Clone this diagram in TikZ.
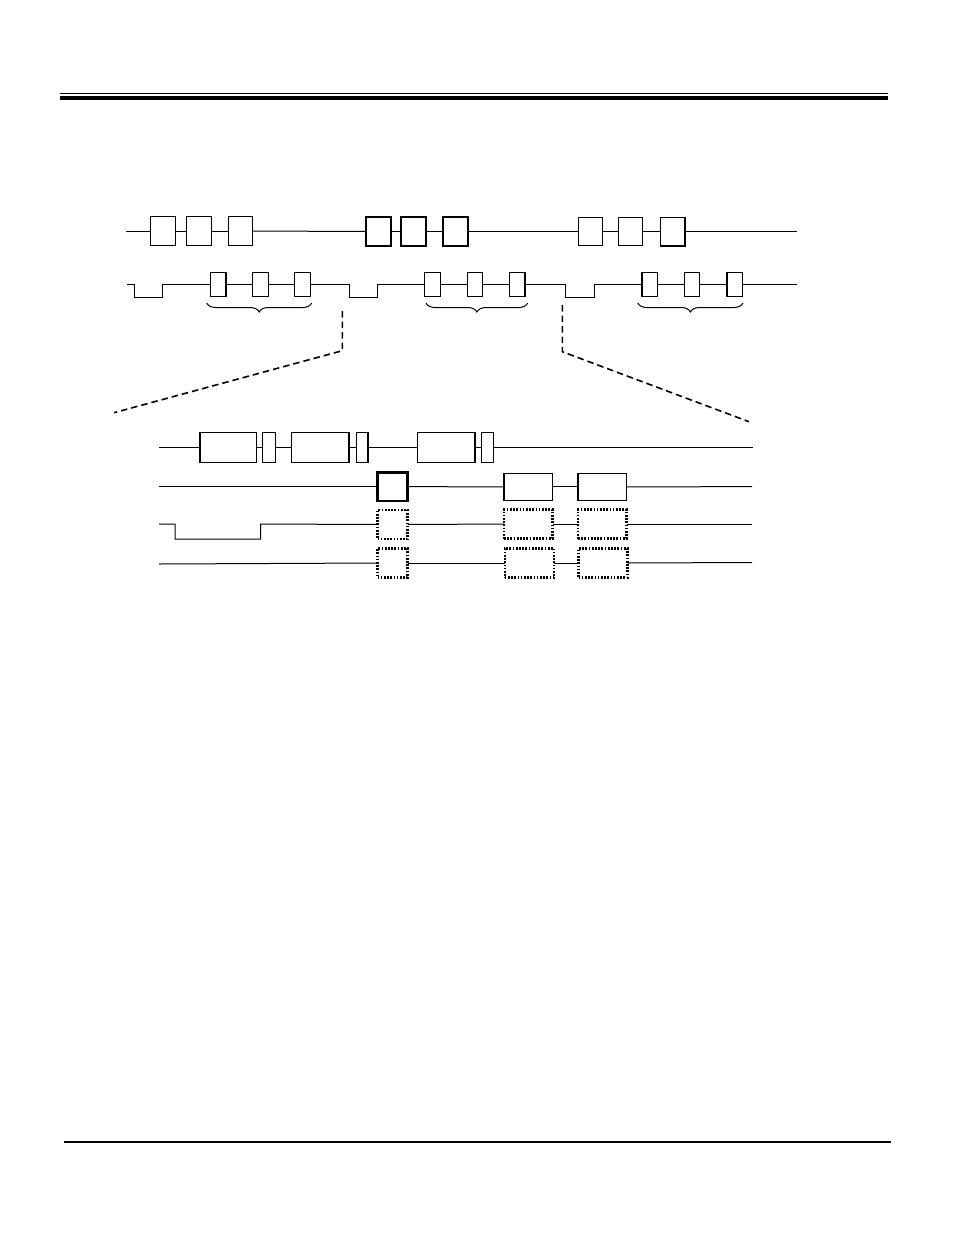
\documentclass[tikz,border=0pt]{standalone}
\usetikzlibrary{decorations.pathreplacing}
\begin{document}
\begin{tikzpicture}[x=1pt,y=-1pt,
  sig/.style={line width=1pt},
  tbox/.style={draw, line width=1.2pt, minimum width=24.5pt, minimum height=28.5pt, inner sep=0pt, outer sep=0pt},
  tboxb/.style={tbox, line width=2pt},
  sbox/.style={draw, line width=1.3pt, minimum width=15.5pt, minimum height=24.5pt, inner sep=0pt, outer sep=0pt},
  lbox/.style={draw, line width=1.6pt, minimum height=30pt, inner sep=0pt, outer sep=0pt},
  thickbox/.style={draw, line width=2.6pt, minimum width=30pt, minimum height=28.5pt, inner sep=0pt, outer sep=0pt},
  dotbox/.style={draw, line width=2.2pt, dash pattern=on 1.7pt off 1.5pt, minimum height=29pt, inner sep=0pt, outer sep=0pt},
  zoomline/.style={line width=1.6pt, dash pattern=on 6.5pt off 4pt},
  bracestyle/.style={line width=1pt, decorate, decoration={brace, mirror, amplitude=9pt}}
]
\useasboundingbox (0,0) rectangle (954,1235);

% header and footer rules
\coordinate (hl1) at (60,93.2);
\coordinate (hr1) at (888.3,93.2);
\coordinate (hl2) at (60,97.7);
\coordinate (hr2) at (888.3,97.7);
\draw[line width=1.2pt] (hl1) -- (hr1);
\draw[line width=4.4pt] (hl2) -- (hr2);
\coordinate (fl) at (64,1141.7);
\coordinate (fr) at (891,1141.7);
\draw[line width=1.8pt] (fl) -- (fr);

% ---------- top row ----------
\node[tbox]  (t1) at (163,231) {};
\node[tbox]  (t2) at (199,231) {};
\node[tbox]  (t3) at (240.5,231) {};
\node[tboxb] (t4) at (378.5,231.5) {};
\node[tboxb] (t5) at (413.5,231.5) {};
\node[tboxb] (t6) at (455.5,231.5) {};
\node[tbox]  (t7) at (590.5,231.5) {};
\node[tbox]  (t8) at (630.5,231.5) {};
\node[tbox, line width=1.5pt] (t9) at (672.5,231.5) {};
\coordinate (ts) at (126,231);
\coordinate (te) at (797,231.5);
\draw[sig] (ts) -- (t1.west);
\draw[sig] (t1.east) -- (t2.west);
\draw[sig] (t2.east) -- (t3.west);
\draw[sig] (t3.east) -- (t4.west);
\draw[sig] (t4.east) -- (t5.west);
\draw[sig] (t5.east) -- (t6.west);
\draw[sig] (t6.east) -- (t7.west);
\draw[sig] (t7.east) -- (t8.west);
\draw[sig] (t8.east) -- (t9.west);
\draw[sig] (t9.east) -- (te);

% ---------- second row ----------
\node[sbox] (s1) at (218.3,284.5) {};
\node[sbox] (s2) at (260.5,284.5) {};
\node[sbox] (s3) at (302.5,284.5) {};
\node[sbox] (s4) at (432.5,284.5) {};
\node[sbox] (s5) at (475,284.5) {};
\node[sbox] (s6) at (517.3,284.5) {};
\node[sbox] (s7) at (649.7,284.5) {};
\node[sbox] (s8) at (692,284.5) {};
\node[sbox] (s9) at (734.7,284.5) {};
\coordinate (ws) at (127,284.5);
\coordinate (we) at (797,284.5);
\draw[sig] (ws) -- (134,284.5) -- (134,297) -- (162,297) -- (162,284.5) -- (s1.west);
\draw[sig] (s1.east) -- (s2.west);
\draw[sig] (s2.east) -- (s3.west);
\draw[sig] (s3.east) -- (349,284.5) -- (349,297) -- (377.7,297) -- (377.7,284.5) -- (s4.west);
\draw[sig] (s4.east) -- (s5.west);
\draw[sig] (s5.east) -- (s6.west);
\draw[sig] (s6.east) -- (565,284.5) -- (565,297) -- (594,297) -- (594,284.5) -- (s7.west);
\draw[sig] (s7.east) -- (s8.west);
\draw[sig] (s8.east) -- (s9.west);
\draw[sig] (s9.east) -- (we);

% braces
\coordinate (b1l) at (206.7,303);
\coordinate (b1r) at (311.7,303);
\coordinate (b2l) at (426,303);
\coordinate (b2r) at (527.7,303);
\coordinate (b3l) at (637.7,303);
\coordinate (b3r) at (743,303);
\draw[bracestyle] (b1l) -- (b1r);
\draw[bracestyle] (b2l) -- (b2r);
\draw[bracestyle] (b3l) -- (b3r);

% zoom lines
\coordinate (z1a) at (342.3,311);
\coordinate (z1b) at (342.3,350.7);
\coordinate (z1c) at (114,412.7);
\coordinate (z2a) at (562.3,305);
\coordinate (z2b) at (562.3,351.7);
\coordinate (z2c) at (749,421.7);
\draw[zoomline] (z1a) -- (z1b) -- (z1c);
\draw[zoomline] (z2a) -- (z2b) -- (z2c);

% ---------- lower panel ----------
% row A
\node[lbox, minimum width=56.5pt] (A1) at (228.3,447.5) {};
\node[lbox, minimum width=12.8pt] (a1) at (268.9,447.5) {};
\node[lbox, minimum width=57.8pt] (A2) at (320.3,447.5) {};
\node[lbox, minimum width=11.8pt] (a2) at (362.3,447.5) {};
\node[lbox, minimum width=57.8pt] (A3) at (446.3,447.5) {};
\node[lbox, minimum width=12.1pt] (a3) at (487.5,447.5) {};
\coordinate (As) at (159,447.5);
\coordinate (Ae) at (752.7,447.5);
\draw[sig] (As) -- (A1.west);
\draw[sig] (A1.east) -- (a1.west);
\draw[sig] (a1.east) -- (A2.west);
\draw[sig] (A2.east) -- (a2.west);
\draw[sig] (a2.east) -- (A3.west);
\draw[sig] (A3.east) -- (a3.west);
\draw[sig] (a3.east) -- (Ae);

% row B
\node[thickbox] (B1) at (392.5,486.7) {};
\node[lbox, minimum width=48.5pt, minimum height=27pt] (B2) at (528.3,486.8) {};
\node[lbox, minimum width=48.5pt, minimum height=27pt] (B3) at (602.3,486.8) {};
\coordinate (Bs) at (159,486.7);
\coordinate (Be) at (752,486.7);
\draw[sig] (Bs) -- (B1.west);
\draw[sig] (B1.east) -- (B2.west);
\draw[sig] (B2.east) -- (B3.west);
\draw[sig] (B3.east) -- (Be);

% row C
\node[dotbox, minimum width=30pt] (C1) at (392.5,524.5) {};
\node[dotbox, minimum width=48.5pt] (C2) at (528.3,524) {};
\node[dotbox, minimum width=48.5pt] (C3) at (602.3,524) {};
\coordinate (Cs) at (159,524);
\coordinate (Ce) at (752,524);
\draw[sig] (Cs) -- (175,524) -- (175,539) -- (260.7,539) -- (260.7,524) -- (C1.west);
\draw[sig] (C1.east) -- (C2.west);
\draw[sig] (C2.east) -- (C3.west);
\draw[sig] (C3.east) -- (Ce);

% row D
\node[dotbox, minimum width=30pt] (D1) at (392.5,563) {};
\node[dotbox, minimum width=49.5pt] (D2) at (529.5,563) {};
\node[dotbox, minimum width=49pt] (D3) at (603,563) {};
\coordinate (Ds) at (159,564);
\coordinate (De) at (752,562.5);
\draw[sig] (Ds) -- (D1.west);
\draw[sig] (D1.east) -- (D2.west);
\draw[sig] (D2.east) -- (D3.west);
\draw[sig] (D3.east) -- (De);
\end{tikzpicture}
\end{document}
